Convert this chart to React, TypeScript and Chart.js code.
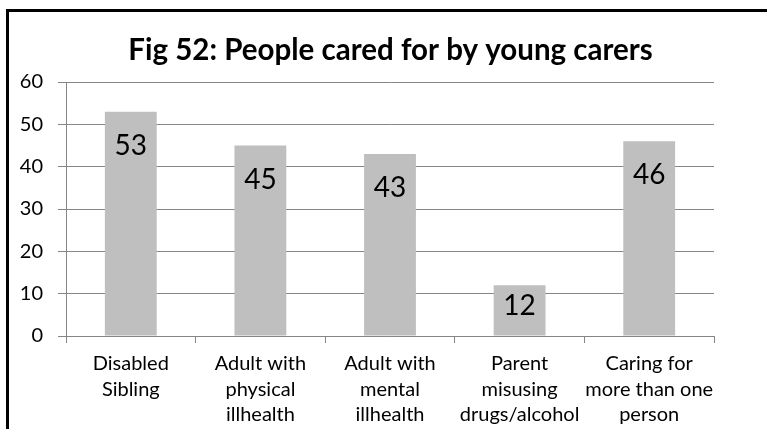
import React, { useEffect, useRef } from "react";
import { Chart, registerables } from "chart.js";

Chart.register(...registerables);

const titleText = "Fig 52: People cared for by young carers";
const categories: string[][] = [
  ["Disabled", "Sibling"],
  ["Adult with", "physical", "illhealth"],
  ["Adult with", "mental", "illhealth"],
  ["Parent", "misusing", "drugs/alcohol"],
  ["Caring for", "more than one", "person"],
];
const values: number[] = [53, 45, 43, 12, 46];
const yMin = 0;
const yMax = 60;
const yStep = 10;

const FONT = "Lato";
const GRID = "#868686";

const dataLabelPlugin = {
  id: "insideEndLabels",
  afterDatasetsDraw(chart: any) {
    const ctx = chart.ctx;
    const meta = chart.getDatasetMeta(0);
    ctx.save();
    ctx.font = `28px ${FONT}`;
    ctx.fillStyle = "#000";
    ctx.textAlign = "center";
    ctx.textBaseline = "alphabetic";
    meta.data.forEach((bar: any, i: number) => {
      const h = bar.base - bar.y;
      const off = Math.min(33, h * 0.4);
      ctx.fillText(String(values[i]), bar.x, bar.y + off + 10);
    });
    ctx.restore();
  },
};

const titlePlugin = {
  id: "frameTitle",
  afterDraw(chart: any) {
    const ctx = chart.ctx;
    ctx.save();
    ctx.font = `bold 29.5px ${FONT}`;
    ctx.fillStyle = "#000";
    ctx.textAlign = "center";
    ctx.textBaseline = "middle";
    ctx.fillText(titleText, 390.5, 50.5);
    ctx.restore();
  },
};

export default function App() {
  const ref = useRef<HTMLCanvasElement | null>(null);

  useEffect(() => {
    document.body.style.margin = "0";
    if (!ref.current) return;
    const chart = new Chart(ref.current, {
      type: "bar",
      data: {
        labels: categories,
        datasets: [
          {
            data: values,
            backgroundColor: "#BFBFBF",
            borderWidth: 0,
            barPercentage: 0.4,
            categoryPercentage: 1,
          },
        ],
      },
      options: {
        responsive: false,
        animation: false,
        devicePixelRatio: 1,
        layout: { padding: { left: 0, right: 53, top: 82, bottom: 0 } },
        plugins: {
          legend: { display: false },
          tooltip: { enabled: false },
          title: { display: false },
        },
        scales: {
          x: {
            grid: {
              display: true,
              drawOnChartArea: false,
              drawTicks: true,
              tickLength: 7,
              color: GRID,
              offset: true,
            },
            border: { display: true, color: GRID, width: 1 },
            ticks: {
              color: "#000",
              font: { family: FONT, size: 20, lineHeight: 1.275 },
              padding: 8,
              maxRotation: 0,
              autoSkip: false,
            },
            afterFit(scale: any) {
              scale.height = 93;
              scale.paddingLeft = 0;
              scale.paddingRight = 0;
            },
          },
          y: {
            min: yMin,
            max: yMax,
            ticks: {
              stepSize: yStep,
              color: "#000",
              font: { family: FONT, size: 20 },
              padding: 15,
            },
            grid: { color: GRID, tickLength: 8, lineWidth: 1 },
            border: { display: true, color: GRID, width: 1 },
            afterFit(scale: any) {
              scale.width = 66;
              scale.paddingTop = 0;
              scale.paddingBottom = 0;
            },
          },
        },
      },
      plugins: [dataLabelPlugin, titlePlugin],
    } as any);
    return () => chart.destroy();
  }, []);

  return (
    <div
      style={{
        position: "fixed",
        left: 0,
        top: 0,
        width: 767,
        height: 429,
        overflow: "hidden",
        background: "#fff",
      }}
    >
      <div
        style={{
          position: "absolute",
          left: 6,
          top: 9,
          width: 900,
          height: 600,
          border: "3px solid #000",
          boxSizing: "border-box",
        }}
      />
      <canvas
        ref={ref}
        width={767}
        height={429}
        style={{ position: "absolute", left: 0, top: 0, width: 767, height: 429 }}
      />
    </div>
  );
}
